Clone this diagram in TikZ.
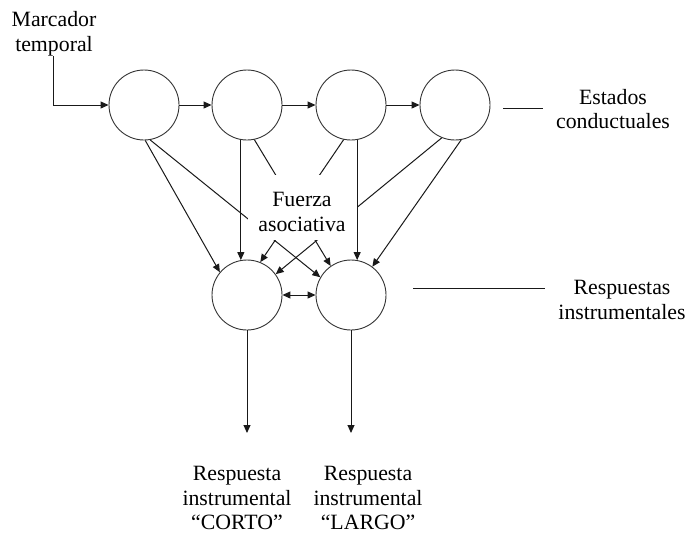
\documentclass[tikz,border=0pt]{standalone}
\usepackage{fontspec}
\setmainfont{Liberation Serif}
\usetikzlibrary{arrows.meta}
\begin{document}
\begin{tikzpicture}[x=1pt,y=-1pt,
  st/.style={circle,draw=black!80,line width=0.9pt,minimum size=70pt,inner sep=0pt},
  lbl/.style={align=center,inner sep=0pt,font=\fontsize{21.8}{24.5}\selectfont},
  con/.style={line width=1pt,draw=black!90},
  tip/.tip={Triangle[length=8pt,width=7pt]},
  arr/.style={con,-tip},
  darr/.style={con,tip-tip}]
\useasboundingbox (0,0) rectangle (690,533);
% states
\node[st] (c1) at (144,105) {};
\node[st] (c2) at (247,105) {};
\node[st] (c3) at (351,105) {};
\node[st] (c4) at (455,105) {};
\node[st] (r1) at (247,295) {};
\node[st] (r2) at (351,295) {};
% labels
\node[lbl] (mt) at (54,34) {Marcador\\temporal};
\node[lbl] (ec) at (613,109) {Estados\\conductuales};
\node[lbl] (ri) at (622,300) {Respuestas\\instrumentales};
\node[lbl] (rc) at (237,498) {Respuesta\\instrumental\\“CORTO”};
\node[lbl] (rl) at (368,498) {Respuesta\\instrumental\\“LARGO”};
\coordinate (e1) at (503,108);
\coordinate (e2) at (543,108);
\coordinate (i1) at (413,288);
\coordinate (i2) at (545,288);
\coordinate (o1) at (247,433);
\coordinate (o2) at (351,433);
% chain
\draw[arr] ([xshift=-1pt]mt.south) |- (c1.west);
\draw[arr] (c1) -- (c2);
\draw[arr] (c2) -- (c3);
\draw[arr] (c3) -- (c4);
% associations
\draw[arr] (c1.-88) -- (r1.140);
\draw[arr] (c1.-80) -- (r2.150);
\draw[arr] (c2.-100) -- (r1.100);
\draw[arr] (c2.-78) -- (r2.125);
\draw[arr] (c3.-102) -- (r1.68);
\draw[arr] (c4.-112) -- (r1.36);
\draw[arr] (c4.-80) -- (r2.53);
\draw[darr] (r1) -- (r2);
\draw[arr] (r1.south) -- (o1);
\draw[arr] (r2.south) -- (o2);
% legend lines
\draw[con] (e1) -- (e2);
\draw[con] (i1) -- (i2);
% mask and label
\node[fill=white,minimum width=109pt,minimum height=65pt,inner sep=0pt] (fm) at (302.5,207.5) {};
\node[lbl] (fa) at (302,212) {Fuerza\\asociativa};
\draw[arr] (c3.-80) -- (r2.80);
\end{tikzpicture}
\end{document}
